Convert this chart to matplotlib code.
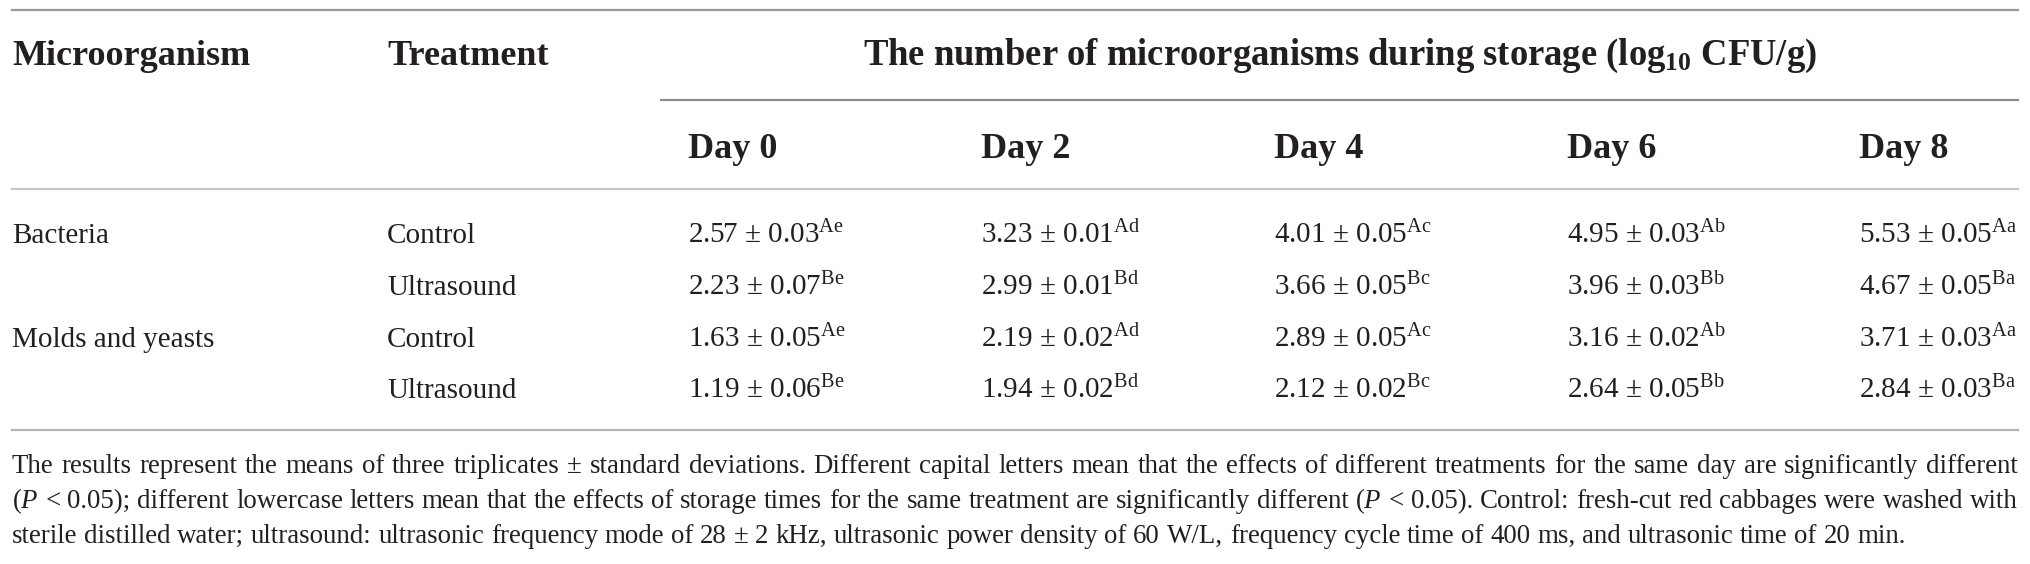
import matplotlib
matplotlib.use("Agg")
import matplotlib.pyplot as plt

plt.rcParams['font.family'] = ['Liberation Serif', 'DejaVu Serif']
plt.rcParams['mathtext.fontset'] = 'custom'
plt.rcParams['mathtext.rm'] = 'Liberation Serif'
plt.rcParams['mathtext.it'] = 'Liberation Serif:italic'
plt.rcParams['mathtext.bf'] = 'Liberation Serif:bold'

# table data
microorganisms = ['Bacteria', '', 'Molds and yeasts', '']
treatments = ['Control', 'Ultrasound', 'Control', 'Ultrasound']
days = ['Day 0', 'Day 2', 'Day 4', 'Day 6', 'Day 8']
means = [
    [2.57, 3.23, 4.01, 4.95, 5.53],
    [2.23, 2.99, 3.66, 3.96, 4.67],
    [1.63, 2.19, 2.89, 3.16, 3.71],
    [1.19, 1.94, 2.12, 2.64, 2.84],
]
sds = [
    [0.03, 0.01, 0.05, 0.03, 0.05],
    [0.07, 0.01, 0.05, 0.03, 0.05],
    [0.05, 0.02, 0.05, 0.02, 0.03],
    [0.06, 0.02, 0.02, 0.05, 0.03],
]
letters = [
    ['Ae', 'Ad', 'Ac', 'Ab', 'Aa'],
    ['Be', 'Bd', 'Bc', 'Bb', 'Ba'],
    ['Ae', 'Ad', 'Ac', 'Ab', 'Aa'],
    ['Be', 'Bd', 'Bc', 'Bb', 'Ba'],
]
footnote = [
    "The results represent the means of three triplicates ± standard deviations. Different capital letters "
    "mean that the effects of different treatments for the same day are significantly different",
    "($\\mathit{P}$ < 0.05); different lowercase letters mean that the effects of storage times for the same "
    "treatment are significantly different ($\\mathit{P}$ < 0.05). Control: fresh-cut red cabbages were washed with",
    "sterile distilled water; ultrasound: ultrasonic frequency mode of 28 ± 2 kHz, ultrasonic power density "
    "of 60 W/L, frequency cycle time of 400 ms, and ultrasonic time of 20 min.",
]

W, H = 2030, 564
fig = plt.figure(figsize=(W / 100, H / 100), dpi=100)
ax = fig.add_axes([0, 0, 1, 1])
ax.set_xlim(0, W)
ax.set_ylim(H, 0)
ax.axis('off')

ink = '#231f20'
left, right = 12, 2018
col_x = [12, 387, 688, 981, 1274, 1567, 1859]
row_y = [243, 295, 347, 398]
head_fs = 26
body_fs = 21

# rules
ax.plot([left, right], [10, 10], color='#9a9a9a', lw=1.6)
ax.plot([661, right], [100, 100], color='#8c8c8c', lw=1.6)
ax.plot([left, right], [189, 189], color='#c8c8c8', lw=1.6)
ax.plot([left, right], [430, 430], color='#b4b4b4', lw=1.6)

# header
ax.text(col_x[0], 65, 'Microorganism', fontsize=head_fs, fontweight='bold', color=ink, va='baseline')
ax.text(col_x[1], 65, 'Treatment', fontsize=head_fs, fontweight='bold', color=ink, va='baseline')
ax.text((661 + right) / 2, 65,
        'The number of microorganisms during storage (log$_{\\mathbf{10}}$ CFU/g)',
        fontsize=head_fs + 0.4, fontweight='bold', color=ink, va='baseline', ha='center')
for j, d in enumerate(days):
    ax.text(col_x[2 + j], 158, d, fontsize=head_fs, fontweight='bold', color=ink, va='baseline')

# body
for i in range(len(treatments)):
    y = row_y[i]
    if microorganisms[i]:
        ax.text(col_x[0], y, microorganisms[i], fontsize=body_fs, color=ink, va='baseline')
    ax.text(col_x[1], y, treatments[i], fontsize=body_fs, color=ink, va='baseline')
    for j in range(len(days)):
        s = '%.2f ± %.2f$^{\\mathrm{%s}}$' % (means[i][j], sds[i][j], letters[i][j])
        ax.text(col_x[2 + j], y, s, fontsize=body_fs, color=ink, va='baseline')

# footnote, first two lines justified
renderer = fig.canvas.get_renderer()
foot_y = [473, 508, 543]


def text_width(s, fs):
    t = ax.text(0, 0, s, fontsize=fs)
    wd = t.get_window_extent(renderer).width
    t.remove()
    return wd


# last line ends near x=1910 in the original
foot_fs = 20 * (1910 - left) / text_width(footnote[2], 20)

for k, line in enumerate(footnote):
    words = line.split(' ')
    ws = [text_width(w, foot_fs) for w in words]
    if k < 2:
        gap = (right - left - sum(ws)) / (len(words) - 1)
    else:
        gap = text_width('a a', foot_fs) - text_width('aa', foot_fs)
    x = left
    for w, wd in zip(words, ws):
        ax.text(x, foot_y[k], w, fontsize=foot_fs, color=ink, va='baseline')
        x += wd + gap

fig.savefig('out.png', dpi=100)
